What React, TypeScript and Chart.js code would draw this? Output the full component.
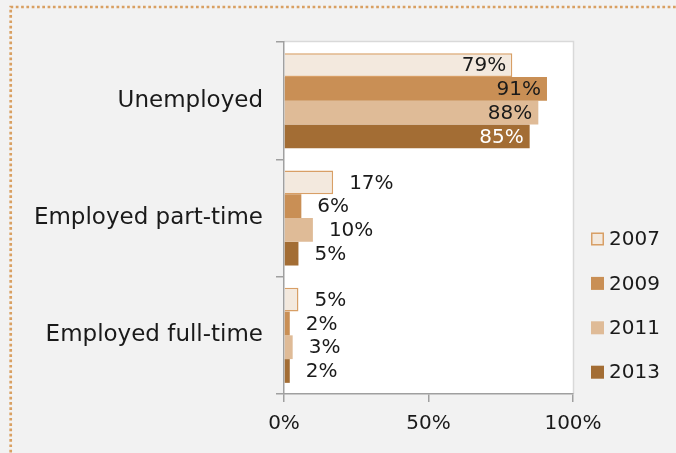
import React, { useEffect, useRef } from "react";
import { Chart, registerables } from "chart.js";

Chart.register(...registerables);

const categories = ["Unemployed", "Employed part-time", "Employed full-time"];
const years = ["2007", "2009", "2011", "2013"];
const values2007 = [79, 17, 5];
const values2009 = [91, 6, 2];
const values2011 = [88, 10, 3];
const values2013 = [85, 5, 2];
const xTicks = [0, 50, 100];

const fills = ["#f3e9de", "#c98f55", "#dfbb97", "#a36d34"];
const borders = ["#d89f66", "#c98f55", "#dfbb97", "#a36d34"];
const insideLabelColors = ["#1a1a1a", "#1a1a1a", "#1a1a1a", "#ffffff"];
const FONT = "'DejaVu Sans', sans-serif";

const backgroundPlugin = {
  id: "bgPlugin",
  beforeDraw(chart: any) {
    const { ctx, width, height, chartArea } = chart;
    ctx.save();
    ctx.fillStyle = "#f2f2f2";
    ctx.fillRect(0, 0, width, height);
    // dotted outer border
    ctx.strokeStyle = "#d9a062";
    ctx.lineWidth = 2.7;
    ctx.setLineDash([2.7, 2.6]);
    ctx.beginPath();
    ctx.moveTo(10.7, height + 10);
    ctx.lineTo(10.7, 7);
    ctx.lineTo(width + 10, 7);
    ctx.stroke();
    ctx.setLineDash([]);
    // plot area
    ctx.fillStyle = "#ffffff";
    ctx.fillRect(chartArea.left, chartArea.top, chartArea.right - chartArea.left, chartArea.bottom - chartArea.top);
    ctx.strokeStyle = "#d9d9d9";
    ctx.lineWidth = 1.5;
    ctx.beginPath();
    ctx.moveTo(chartArea.left, chartArea.top - 0.5);
    ctx.lineTo(chartArea.right + 0.5, chartArea.top - 0.5);
    ctx.lineTo(chartArea.right + 0.5, chartArea.bottom);
    ctx.stroke();
    ctx.restore();
  },
};

const labelsPlugin = {
  id: "barLabels",
  afterDatasetsDraw(chart: any) {
    const { ctx } = chart;
    ctx.save();
    ctx.font = `20px ${FONT}`;
    ctx.textBaseline = "middle";
    chart.data.datasets.forEach((ds: any, di: number) => {
      const meta = chart.getDatasetMeta(di);
      meta.data.forEach((bar: any, i: number) => {
        const v = ds.data[i];
        const txt = `${v}%`;
        if (v >= 50) {
          ctx.textAlign = "right";
          ctx.fillStyle = insideLabelColors[di];
          ctx.fillText(txt, bar.x - 6, bar.y + 1);
        } else {
          ctx.textAlign = "left";
          ctx.fillStyle = "#1a1a1a";
          ctx.fillText(txt, bar.x + 16, bar.y + 1);
        }
      });
    });
    ctx.restore();
  },
};

const legendPlugin = {
  id: "customLegend",
  afterDraw(chart: any) {
    const { ctx } = chart;
    ctx.save();
    ctx.font = `20px ${FONT}`;
    ctx.textBaseline = "middle";
    ctx.textAlign = "left";
    const x0 = 591;
    const y0 = 239;
    const step = 44.4;
    chart.data.datasets.forEach((ds: any, i: number) => {
      const cy = y0 + i * step;
      ctx.fillStyle = ds.backgroundColor;
      ctx.fillRect(x0, cy - 6.5, 13, 13);
      if (i === 0) {
        ctx.strokeStyle = ds.borderColor;
        ctx.lineWidth = 1.5;
        ctx.strokeRect(x0 + 0.75, cy - 5.75, 11.5, 11.5);
      }
      ctx.fillStyle = "#1a1a1a";
      ctx.fillText(ds.label, 609, cy + 1);
    });
    ctx.restore();
  },
};

export default function App() {
  const ref = useRef<HTMLCanvasElement | null>(null);

  useEffect(() => {
    if (!ref.current) return;
    const series = [values2007, values2009, values2011, values2013];
    const chart = new Chart(ref.current, {
      type: "bar",
      data: {
        labels: categories,
        datasets: years.map((y, i) => ({
          label: y,
          data: series[i],
          backgroundColor: fills[i],
          borderColor: borders[i],
          borderWidth: i === 0 ? 1.5 : 0,
          categoryPercentage: 0.81,
          barPercentage: 1,
        })),
      },
      options: {
        indexAxis: "y",
        responsive: false,
        animation: false,
        devicePixelRatio: 1,
        layout: { padding: { left: 0, right: 103, top: 42, bottom: 0 } },
        plugins: { legend: { display: false }, tooltip: { enabled: false } },
        scales: {
          y: {
            type: "category",
            afterFit: (s: any) => {
              s.width = 284;
            },
            grid: {
              offset: true,
              drawOnChartArea: false,
              drawTicks: true,
              tickLength: 8,
              color: "#a0a0a0",
              lineWidth: 1.5,
            },
            border: { display: true, color: "#a0a0a0", width: 1.5 },
            ticks: {
              color: "#1a1a1a",
              font: { family: FONT, size: 23 },
              padding: 13,
            },
          },
          x: {
            type: "linear",
            min: 0,
            max: 100,
            afterFit: (s: any) => {
              s.height = 59;
            },
            afterBuildTicks: (s: any) => {
              s.ticks = xTicks.map((v) => ({ value: v }));
            },
            grid: {
              drawOnChartArea: false,
              drawTicks: true,
              tickLength: 8,
              color: "#a0a0a0",
              lineWidth: 1.5,
            },
            border: { display: true, color: "#a0a0a0", width: 1.5 },
            ticks: {
              color: "#1a1a1a",
              font: { family: FONT, size: 20 },
              padding: 10,
              maxRotation: 0,
              callback: (v: any) => `${v}%`,
            },
          },
        },
      },
      plugins: [backgroundPlugin, labelsPlugin, legendPlugin],
    });
    return () => chart.destroy();
  }, []);

  return (
    <div style={{ position: "fixed", left: 0, top: 0, width: 676, height: 453, background: "#f2f2f2" }}>
      <canvas ref={ref} width={676} height={453} style={{ display: "block" }} />
    </div>
  );
}
